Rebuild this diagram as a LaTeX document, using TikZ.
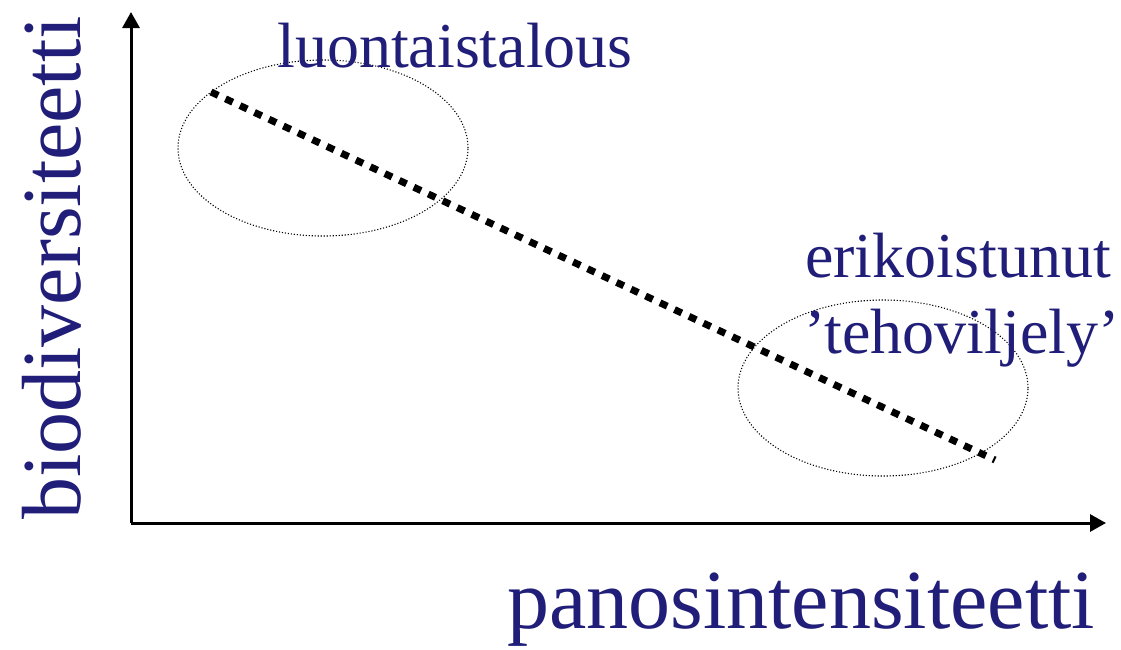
\documentclass[tikz,border=0pt]{standalone}
\usepackage{fontspec}
\setmainfont{Liberation Serif}
\usetikzlibrary{arrows.meta,shapes.geometric}
\definecolor{navy}{RGB}{32,30,120}
\tikzset{
  axis/.style={line width=3pt,-{Triangle[length=16pt,width=17pt]}},
  lbl/.style={text=navy,font=\fontsize{64}{74}\selectfont,inner sep=0pt,anchor=base},
  biglbl/.style={text=navy,font=\fontsize{84}{96}\selectfont,inner sep=0pt,anchor=base},
  zone/.style={draw,ellipse,line width=1.1pt,dash pattern=on 1.1pt off 1.9pt,minimum width=290pt,minimum height=176pt,inner sep=0pt},
  trend/.style={line width=7pt,dash pattern=on 8pt off 8pt}
}
\begin{document}
\begin{tikzpicture}[x=1pt,y=-1pt]
\useasboundingbox (0,0) rectangle (1121,649);
\coordinate (o) at (131,523);
\coordinate (ytip) at (131,12);
\coordinate (xtip) at (1106,523);
\draw[axis] (o) -- (ytip);
\draw[axis] (o) -- (xtip);
\node[zone] (e1) at (323,148) {};
\node[zone] (e2) at (883,388) {};
\coordinate (ls) at (211,92);
\coordinate (le) at (995,460);
\draw[trend] (ls) -- (le);
\node[lbl] (luonto) at (455,67) {luontaistalous};
\node[lbl] (erik) at (958,277) {erikoistunut};
\node[lbl] (teho) at (962,353) {’tehoviljely’};
\node[biglbl] (xl) at (801,628) {panosintensiteetti};
\node[biglbl,rotate=90] (yl) at (80,268) {biodiversiteetti};
\end{tikzpicture}
\end{document}
